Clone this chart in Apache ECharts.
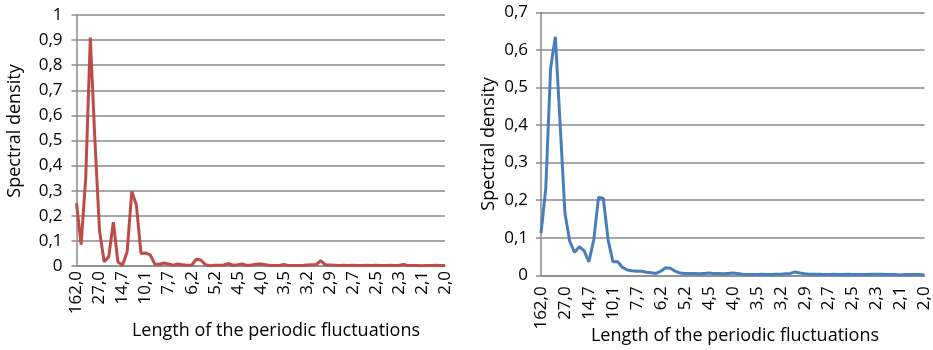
<!DOCTYPE html>
<html>
<head>
<meta charset="utf-8">
<script src="https://cdn.jsdelivr.net/npm/echarts@6/dist/echarts.min.js"></script>
<style>html,body{margin:0;padding:0;background:#fff}#c{width:933px;height:350px}</style>
</head>
<body>
<div id="c"></div>
<script>
const periods = ["162,0","81,0","54,0","40,5","32,4","27,0","23,1","20,3","18,0","16,2",
"14,7","13,5","12,5","11,6","10,8","10,1","9,5","9,0","8,5","8,1",
"7,7","7,4","7,0","6,8","6,5","6,2","6,0","5,8","5,6","5,4",
"5,2","5,1","4,9","4,8","4,6","4,5","4,4","4,3","4,2","4,1",
"4,0","3,9","3,8","3,7","3,6","3,5","3,4","3,4","3,3","3,2",
"3,2","3,1","3,1","3,0","2,9","2,9","2,8","2,8","2,7","2,7",
"2,7","2,6","2,6","2,5","2,5","2,5","2,4","2,4","2,3","2,3",
"2,3","2,3","2,2","2,2","2,2","2,1","2,1","2,1","2,1","2,0","2,0"];

const densityLeft = [0.25,0.085,0.35,0.91,0.50,0.14,0.017,0.037,0.175,0.015,
0.004,0.057,0.297,0.243,0.05,0.052,0.044,0.008,0.007,0.012,
0.008,0.003,0.008,0.005,0.003,0.003,0.027,0.024,0.005,0.001,
0.003,0.003,0.004,0.010,0.003,0.005,0.008,0.002,0.004,0.007,
0.008,0.005,0.002,0.002,0.002,0.006,0.002,0.002,0.002,0.002,
0.004,0.005,0.005,0.021,0.005,0.004,0.003,0.002,0.003,0.002,
0.003,0.002,0.002,0.003,0.002,0.003,0.002,0.002,0.003,0.002,
0.003,0.006,0.002,0.002,0.002,0.001,0.002,0.002,0.003,0.002,0.002];

const densityRight = [0.112,0.232,0.551,0.635,0.40,0.165,0.09,0.061,0.076,0.065,
0.036,0.094,0.207,0.205,0.094,0.036,0.036,0.021,0.014,0.012,
0.011,0.011,0.008,0.007,0.005,0.011,0.02,0.019,0.011,0.006,
0.005,0.005,0.005,0.004,0.005,0.006,0.005,0.005,0.004,0.005,
0.006,0.005,0.003,0.002,0.002,0.002,0.003,0.002,0.002,0.003,
0.003,0.004,0.005,0.009,0.006,0.004,0.003,0.003,0.003,0.002,
0.002,0.003,0.002,0.002,0.003,0.002,0.002,0.002,0.002,0.003,
0.003,0.003,0.002,0.002,0.002,0.001,0.002,0.002,0.002,0.002,0.001];

const yTitle = "Spectral density";
const xTitle = "Length of the periodic fluctuations";

const FONT = "Open Sans";
const GRID = "#8a8a8a";
const TICK_SIZE = 17;
const TITLE_SIZE = 18;
const fmt = v => (Math.abs(v) < 1e-9 ? "0" : String(+v.toFixed(1)).replace(".", ","));

function xAxisCfg(gi, margin) {
  return {
    type: "category", gridIndex: gi, data: periods, boundaryGap: false,
    axisLine: { show: true, lineStyle: { color: GRID, width: 1.5 } },
    axisTick: { show: false },
    axisLabel: { interval: 4, rotate: 90, margin: margin, color: "#000", fontFamily: FONT, fontSize: TICK_SIZE },
    splitLine: { show: false }
  };
}
function yAxisCfg(gi, max, margin) {
  return {
    type: "value", gridIndex: gi, min: 0, max: max, interval: 0.1,
    axisLine: { show: true, lineStyle: { color: GRID, width: 1.5 } },
    axisTick: { show: true, length: 5, lineStyle: { color: GRID, width: 1.5 } },
    axisLabel: { formatter: fmt, margin: margin, color: "#000", fontFamily: FONT, fontSize: TICK_SIZE },
    splitLine: { show: true, lineStyle: { color: GRID, width: 1.5 } }
  };
}

const chart = echarts.init(document.getElementById("c"), null, { renderer: "canvas" });
const tfont = TITLE_SIZE + "px '" + FONT + "'";
chart.setOption({
  animation: false,
  backgroundColor: "#fff",
  grid: [
    { left: 76.5, top: 15, width: 368.5, height: 251 },
    { left: 541, top: 12.3, width: 389, height: 263 }
  ],
  xAxis: [xAxisCfg(0, 5), xAxisCfg(1, 11)],
  yAxis: [yAxisCfg(0, 1, 14), yAxisCfg(1, 0.7, 13)],
  series: [
    { type: "line", xAxisIndex: 0, yAxisIndex: 0, data: densityLeft, showSymbol: false,
      lineStyle: { color: "#BE4B48", width: 3 }, itemStyle: { color: "#BE4B48" } },
    { type: "line", xAxisIndex: 1, yAxisIndex: 1, data: densityRight, showSymbol: false,
      lineStyle: { color: "#4A7EBB", width: 3 }, itemStyle: { color: "#4A7EBB" } }
  ],
  graphic: [
    { type: "text", x: 15, y: 131, rotation: Math.PI / 2,
      style: { text: yTitle, font: tfont, fill: "#000", align: "center", verticalAlign: "middle" } },
    { type: "text", x: 276, y: 331,
      style: { text: xTitle, font: tfont, fill: "#000", align: "center", verticalAlign: "middle" } },
    { type: "text", x: 489, y: 144, rotation: Math.PI / 2,
      style: { text: yTitle, font: tfont, fill: "#000", align: "center", verticalAlign: "middle" } },
    { type: "text", x: 735, y: 336,
      style: { text: xTitle, font: tfont, fill: "#000", align: "center", verticalAlign: "middle" } }
  ]
});
</script>
</body>
</html>
